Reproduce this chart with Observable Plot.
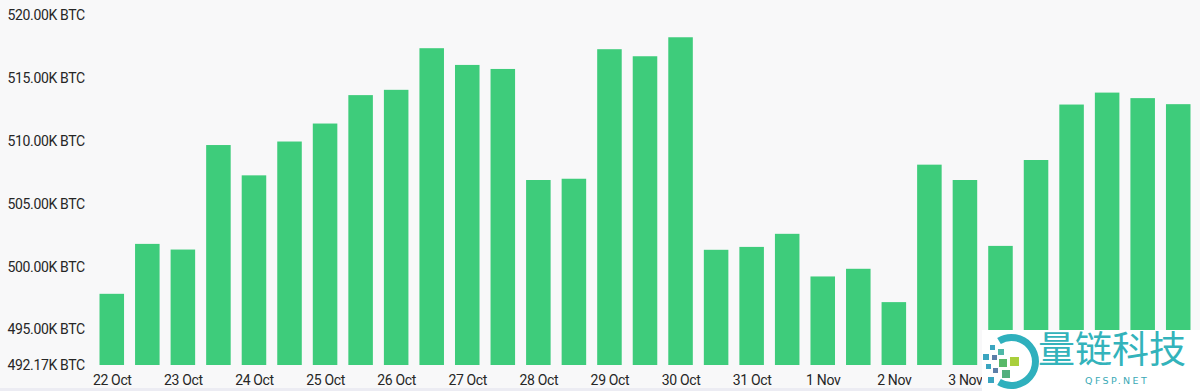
<!DOCTYPE html>
<html>
<head>
<meta charset="utf-8">
<script src="https://cdn.jsdelivr.net/npm/d3@7"></script>
<script src="https://cdn.jsdelivr.net/npm/@observablehq/plot@0.6"></script>
<style>
  html, body { margin: 0; padding: 0; background: #f8f8f9; width: 1200px; height: 391px; overflow: hidden; }
  #chart { position: relative; width: 1200px; height: 391px; }
  #chart svg { display: block; }
  #chart svg text { letter-spacing: -0.35px; }
  .strip { position: absolute; left: 0; bottom: 0; width: 1200px; height: 3px; background: #ececf3; }
  .wm { position: absolute; left: 982px; top: 330px; width: 218px; height: 61px; background: #ffffff; }
  .wm .cn { position: absolute; left: 56px; top: -5px; font-family: "Noto Sans CJK SC", sans-serif; font-size: 37px; color: #33b3bb; white-space: nowrap; line-height: 44px; }
  .wm .en { position: absolute; left: 103px; top: 45px; font-family: "DejaVu Sans", sans-serif; font-size: 9.5px; color: #3aa9b6; letter-spacing: 2.4px; white-space: nowrap; }
  .wm svg { position: absolute; left: -2px; top: 0; }
</style>
</head>
<body>
<div id="chart"></div>
<script>
// ---- data ----
const days = ["22 Oct","23 Oct","24 Oct","25 Oct","26 Oct","27 Oct","28 Oct","29 Oct","30 Oct","31 Oct","1 Nov","2 Nov","3 Nov","4 Nov","5 Nov","6 Nov"];
const labelledDays = ["22 Oct","23 Oct","24 Oct","25 Oct","26 Oct","27 Oct","28 Oct","29 Oct","30 Oct","31 Oct","1 Nov","2 Nov","3 Nov"];
const halves = ["00:00", "12:00"];
const reserves = [
  497.83, 501.80, 501.35, 509.66, 507.25, 509.94, 511.37, 513.63,
  514.05, 517.36, 516.03, 515.71, 506.88, 506.98, 517.28, 516.72,
  518.23, 501.33, 501.56, 502.60, 499.21, 499.82, 497.17, 508.10,
  506.88, 501.64, 508.47, 512.88, 513.83, 513.39, 512.91
];
const yTicks = [492.17, 495, 500, 505, 510, 515, 520];
const yMin = 492.17, yMax = 520;

const slots = days.flatMap(d => halves.map(h => d + " " + h)).slice(0, reserves.length);
const data = reserves.map((v, i) => ({ slot: slots[i], value: v }));
const dayTicks = labelledDays.map(d => d + " 00:00");

const chart = Plot.plot({
  width: 1200,
  height: 391,
  marginTop: 15,
  marginBottom: 26,
  marginLeft: 94,
  marginRight: 4,
  style: { background: "#f8f8f9", fontFamily: "Roboto, sans-serif", fontSize: "14px", color: "#262626" },
  x: { domain: slots, paddingInner: 0.31, paddingOuter: 0.155, round: false, label: null },
  y: { domain: [yMin, yMax], label: null },
  marks: [
    Plot.barY(data, { x: "slot", y1: yMin, y2: "value", fill: "#3ecc7b" }),
    Plot.axisY({
      ticks: yTicks, tickSize: 0, tickPadding: 3, textAnchor: "start", dx: -84,
      tickFormat: d => d.toFixed(2) + "K BTC", fill: "#262626", fontSize: 14
    }),
    Plot.axisX({
      ticks: dayTicks, tickSize: 0, tickPadding: 10,
      tickFormat: s => s.split(" ").slice(0, 2).join(" "), fill: "#262626", fontSize: 14
    })
  ]
});
const host = document.getElementById("chart");
host.appendChild(chart);

const strip = document.createElement("div");
strip.className = "strip";
host.appendChild(strip);

const wm = document.createElement("div");
wm.className = "wm";
wm.innerHTML = `
<svg width="60" height="62" viewBox="0 0 60 62">
  <path d="M 19 11 A 24 24 0 1 1 19 52" fill="none" stroke="#2fb0bd" stroke-width="7"/>
  <rect x="10" y="15" width="5" height="5" fill="#3aa5c0"/>
  <rect x="18" y="19" width="6" height="6" fill="#4fb8a8"/>
  <rect x="3" y="24" width="6" height="6" fill="#3aa5c0"/>
  <rect x="12" y="25" width="5" height="5" fill="#5c7fa8"/>
  <rect x="19" y="29" width="8" height="8" fill="#58b96a"/>
  <rect x="30" y="27" width="9" height="9" fill="#a9cf3c"/>
  <rect x="6" y="34" width="5" height="5" fill="#3aa5c0"/>
  <rect x="13" y="38" width="5" height="5" fill="#5c7fa8"/>
  <rect x="22" y="40" width="8" height="8" fill="#52b07e"/>
  <rect x="8" y="47" width="6" height="6" fill="#3aa5c0"/>
</svg>
<div class="cn">量链科技</div>
<div class="en">QFSP.NET</div>`;
host.appendChild(wm);
</script>
</body>
</html>
